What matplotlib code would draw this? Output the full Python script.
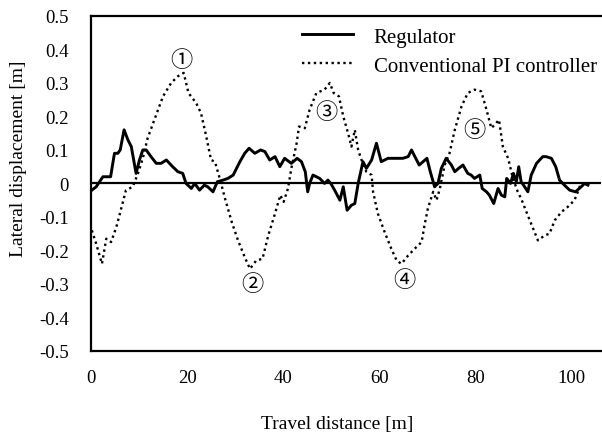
import matplotlib
matplotlib.use("Agg")
import matplotlib.pyplot as plt

plt.rcParams["font.family"] = ["Liberation Serif", "Noto Sans CJK JP", "DejaVu Sans"]

# Regulator (solid)
reg_x = [0.2, 1.1, 2.5, 3.2, 4.1, 4.9, 5.6, 6.1, 6.9, 7.7, 8.4, 9.4, 10.1, 10.8, 11.5, 12.5,
         13.6, 14.6, 15.7, 17.0, 18.1, 19.1, 19.8, 20.9, 21.6, 22.6, 23.6, 24.3, 25.4, 26.3,
         27.5, 28.5, 29.6, 31.0, 32.0, 32.9, 34.1, 35.3, 36.2, 37.2, 38.3, 39.3, 40.3, 41.7,
         42.9, 43.8, 44.6, 45.1, 45.5, 46.2, 47.6, 48.6, 49.3, 49.9, 50.7, 51.8, 52.5, 53.3,
         54.2, 54.9, 55.6, 56.6, 57.3, 58.4, 59.4, 60.4, 61.8, 63.6, 64.9, 66.0, 66.7, 67.4,
         68.3, 69.1, 69.9, 70.6, 71.5, 72.2, 72.9, 73.9, 75.0, 75.7, 76.5, 77.4, 78.4, 79.1,
         79.8, 80.9, 81.4, 82.3, 82.9, 83.8, 84.7, 85.4, 86.1, 86.5, 87.3, 87.9, 88.5, 89.0,
         89.5, 90.0, 90.9, 91.6, 92.7, 94.0, 94.7, 95.8, 96.7, 97.5, 98.5, 99.6, 100.8, 102.0,
         102.7, 103.4]
reg_y = [-0.02, -0.01, 0.02, 0.02, 0.02, 0.09, 0.09, 0.10, 0.16, 0.13, 0.11, 0.03, 0.07, 0.10,
         0.10, 0.08, 0.06, 0.06, 0.07, 0.05, 0.035, 0.03, 0.0, -0.015, 0.0, -0.02, -0.005, -0.01,
         -0.025, 0.005, 0.01, 0.015, 0.025, 0.065, 0.09, 0.105, 0.09, 0.10, 0.095, 0.07, 0.08,
         0.05, 0.075, 0.06, 0.075, 0.065, 0.035, -0.025, 0.0, 0.025, 0.015, 0.0, 0.01, 0.0,
         -0.02, -0.05, -0.01, -0.08, -0.065, -0.06, 0.0, 0.065, 0.045, 0.07, 0.12, 0.065, 0.075,
         0.075, 0.075, 0.08, 0.10, 0.08, 0.055, 0.065, 0.075, 0.035, -0.01, 0.0, 0.045, 0.075,
         0.055, 0.035, 0.045, 0.055, 0.03, 0.025, 0.015, 0.025, -0.015, -0.025, -0.035, -0.06,
         -0.015, -0.035, -0.04, 0.015, 0.0, 0.03, 0.005, 0.05, 0.005, -0.005, -0.025, 0.025,
         0.06, 0.08, 0.08, 0.075, 0.05, 0.01, -0.005, -0.02, -0.025, -0.01, 0.0, -0.005]

# Conventional PI controller (dotted)
pi_x = [0.2, 1.1, 2.3, 3.2, 4.2, 5.3, 6.3, 7.3, 8.7, 9.8, 10.8, 11.8, 13.2, 15.0, 16.7, 18.1,
        19.3, 20.3, 21.9, 22.9, 24.0, 25.0, 25.8, 26.8, 27.9, 29.3, 30.6, 32.0, 33.1, 34.4,
        35.7, 36.9, 38.3, 39.4, 40.1, 41.0, 41.7, 42.8, 43.3, 44.5, 45.5, 46.9, 48.6, 49.7,
        50.5, 51.6, 52.5, 53.5, 54.2, 54.9, 55.6, 56.3, 57.3, 58.4, 58.7, 59.7, 61.1, 62.5,
        63.6, 64.6, 66.0, 67.7, 68.8, 69.4, 70.1, 71.2, 71.9, 72.6, 73.6, 74.6, 75.7, 77.1,
        78.4, 79.8, 81.2, 82.3, 83.3, 84.3, 84.9, 85.7, 86.8, 87.8, 88.8, 89.5, 90.6, 92.0,
        93.0, 94.4, 95.4, 96.5, 97.9, 99.2, 100.6, 101.3, 101.8]
pi_y = [-0.14, -0.18, -0.24, -0.165, -0.175, -0.13, -0.075, -0.02, -0.01, 0.03, 0.075, 0.135,
        0.19, 0.26, 0.30, 0.32, 0.33, 0.27, 0.24, 0.21, 0.14, 0.07, 0.065, 0.015, -0.045,
        -0.115, -0.17, -0.22, -0.255, -0.23, -0.225, -0.155, -0.09, -0.035, -0.055, -0.015,
        0.045, 0.12, 0.17, 0.165, 0.22, 0.27, 0.28, 0.30, 0.27, 0.26, 0.2, 0.15, 0.11, 0.16,
        0.10, 0.07, 0.035, 0.025, -0.025, -0.09, -0.145, -0.195, -0.23, -0.24, -0.215, -0.19,
        -0.175, -0.125, -0.075, -0.025, -0.05, -0.015, 0.055, 0.09, 0.16, 0.23, 0.27, 0.28,
        0.275, 0.22, 0.165, 0.18, 0.19, 0.11, 0.075, 0.015, -0.025, -0.045, -0.085, -0.135,
        -0.17, -0.155, -0.15, -0.11, -0.085, -0.07, -0.05, -0.025, -0.005]

marks = ["\u2460", "\u2461", "\u2462", "\u2463", "\u2464"]
mark_x = [18.9, 33.6, 48.9, 65.3, 79.8]
mark_y = [0.367, -0.303, 0.213, -0.29, 0.158]

yticks = [0.5, 0.4, 0.3, 0.2, 0.1, 0, -0.1, -0.2, -0.3, -0.4, -0.5]
ytick_labels = ["0.5", "0.4", "0.3", "0.2", "0.1", "0", "-0.1", "-0.2", "-0.3", "-0.4", "-0.5"]
xticks = [0, 20, 40, 60, 80, 100]

fig = plt.figure(figsize=(6.02, 4.35), dpi=100)
ax = fig.add_axes([0.151, 0.191, 0.848, 0.770])

ax.axhline(0, color="black", lw=1.6, zorder=1)
ax.plot(reg_x, reg_y, color="black", lw=2.1, label="Regulator", zorder=3)
ax.plot(pi_x, pi_y, color="black", lw=1.7, ls=(0, (1, 1.5)), label="Conventional PI controller",
        zorder=2)

for m, mx, my in zip(marks, mark_x, mark_y):
    ax.text(mx, my, m, ha="center", va="center", fontsize=16)

ax.set_xlim(0, 106.2)
ax.set_ylim(-0.5, 0.5)
ax.set_xticks(xticks)
ax.set_yticks(yticks)
ax.set_yticklabels(ytick_labels)
ax.tick_params(length=0, labelsize=13.5)
ax.tick_params(axis="y", pad=16)
ax.tick_params(axis="x", pad=13)
ax.spines["right"].set_visible(False)
for s in ("left", "top", "bottom"):
    ax.spines[s].set_linewidth(1.6)

ax.set_xlabel("Travel distance [m]", fontsize=14)
ax.set_ylabel("Lateral displacement [m]", fontsize=14)
ax.xaxis.set_label_coords(0.483, -0.19)
ax.yaxis.set_label_coords(-0.125, 0.576)

ax.legend(loc="upper left", bbox_to_anchor=(0.413, 0.967), frameon=False, fontsize=15,
          borderpad=0, borderaxespad=0, handlelength=2.45, handletextpad=1.0, labelspacing=0.45)

fig.savefig("out.png", dpi=100)
